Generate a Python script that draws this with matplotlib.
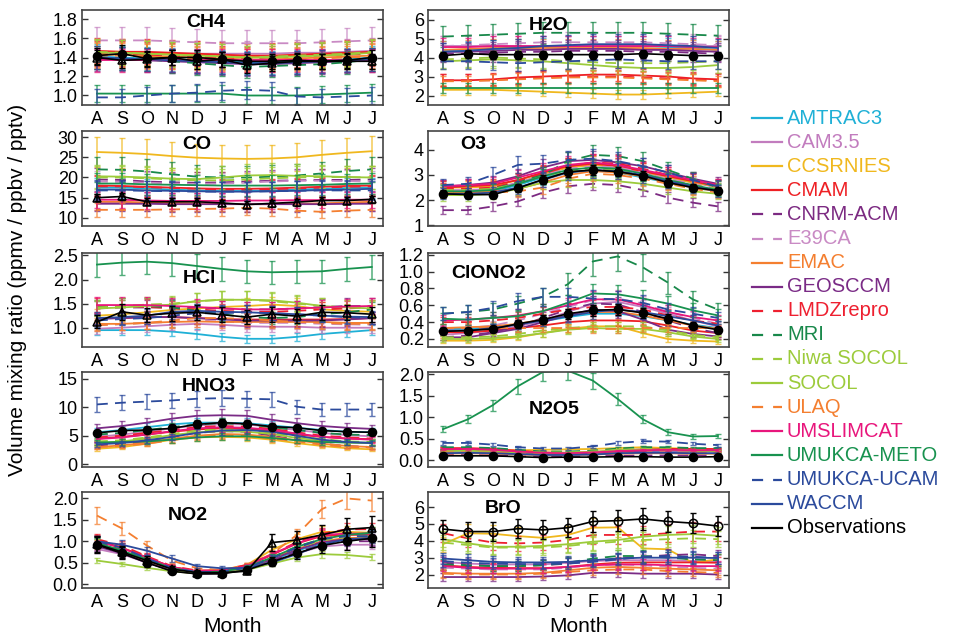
import matplotlib
matplotlib.use("Agg")
import matplotlib.pyplot as plt
from matplotlib.lines import Line2D
from matplotlib.ticker import FormatStrFormatter
import numpy as np

plt.rcParams['font.family'] = ['Liberation Sans', 'DejaVu Sans']

MONTHS = ['A', 'S', 'O', 'N', 'D', 'J', 'F', 'M', 'A', 'M', 'J', 'J']

MODELS = ['AMTRAC3', 'CAM3.5', 'CCSRNIES', 'CMAM', 'CNRM-ACM', 'E39CA', 'EMAC',
          'GEOSCCM', 'LMDZrepro', 'MRI', 'Niwa SOCOL', 'SOCOL', 'ULAQ',
          'UMSLIMCAT', 'UMUKCA-METO', 'UMUKCA-UCAM', 'WACCM']
COLORS = ['#1fb0d6', '#c27cbe', '#f0b81e', '#ee2024', '#7c2a82', '#c98ac4', '#f47f30',
          '#7a2b86', '#ee2030', '#18884a', '#9ccb3b', '#9ccb3b', '#f47f30',
          '#e8167c', '#18924f', '#2b4a9c', '#2b4a9c']
DASHED = [False, False, False, False, True, True, False, False, True, True, True,
          False, True, False, False, True, False]

CH4 = {
    'AMTRAC3': [1.41, 1.40, 1.39, 1.38, 1.37, 1.36, 1.35, 1.35, 1.36, 1.37, 1.38, 1.40],
    'CAM3.5': [1.45, 1.45, 1.45, 1.44, 1.44, 1.44, 1.44, 1.44, 1.45, 1.45, 1.46, 1.47],
    'CCSRNIES': [1.46, 1.46, 1.45, 1.44, 1.43, 1.42, 1.41, 1.41, 1.42, 1.43, 1.44, 1.45],
    'CMAM': [1.47, 1.46, 1.46, 1.45, 1.44, 1.43, 1.42, 1.42, 1.43, 1.44, 1.45, 1.46],
    'CNRM-ACM': [1.40, 1.39, 1.38, 1.37, 1.36, 1.35, 1.34, 1.34, 1.35, 1.36, 1.37, 1.38],
    'E39CA': [1.58, 1.58, 1.58, 1.57, 1.56, 1.55, 1.55, 1.55, 1.55, 1.56, 1.57, 1.58],
    'EMAC': [1.43, 1.43, 1.42, 1.41, 1.40, 1.39, 1.38, 1.38, 1.39, 1.40, 1.41, 1.42],
    'GEOSCCM': [1.38, 1.38, 1.37, 1.36, 1.35, 1.34, 1.33, 1.33, 1.34, 1.35, 1.36, 1.37],
    'LMDZrepro': [1.44, 1.44, 1.43, 1.42, 1.41, 1.40, 1.39, 1.40, 1.41, 1.42, 1.43, 1.44],
    'MRI': [1.40, 1.39, 1.38, 1.36, 1.34, 1.32, 1.30, 1.31, 1.32, 1.33, 1.35, 1.38],
    'Niwa SOCOL': [1.46, 1.45, 1.44, 1.43, 1.42, 1.41, 1.40, 1.41, 1.42, 1.43, 1.44, 1.46],
    'SOCOL': [1.45, 1.45, 1.44, 1.43, 1.42, 1.41, 1.40, 1.40, 1.41, 1.42, 1.43, 1.45],
    'ULAQ': [1.42, 1.42, 1.41, 1.40, 1.39, 1.38, 1.37, 1.37, 1.38, 1.39, 1.40, 1.41],
    'UMSLIMCAT': [1.37, 1.37, 1.37, 1.37, 1.37, 1.37, 1.37, 1.37, 1.37, 1.37, 1.37, 1.37],
    'UMUKCA-METO': [1.02, 1.02, 1.02, 1.02, 1.02, 1.02, 1.00, 1.00, 1.00, 1.01, 1.02, 1.03],
    'UMUKCA-UCAM': [0.98, 0.98, 1.00, 1.02, 1.03, 1.05, 1.06, 1.05, 0.99, 0.98, 0.99, 1.00],
    'WACCM': [1.40, 1.39, 1.38, 1.37, 1.36, 1.35, 1.34, 1.34, 1.35, 1.36, 1.37, 1.38],
}
CH4_OBS = [1.42, 1.44, 1.39, 1.40, 1.40, 1.38, 1.36, 1.36, 1.37, 1.36, 1.37, 1.40]
CH4_OBS2 = [1.40, 1.37, 1.38, 1.40, 1.36, 1.38, 1.32, 1.34, 1.36, 1.36, 1.36, 1.36]

H2O = {
    'AMTRAC3': [4.4, 4.4, 4.45, 4.5, 4.55, 4.6, 4.6, 4.6, 4.6, 4.55, 4.5, 4.4],
    'CAM3.5': [4.6, 4.6, 4.6, 4.6, 4.6, 4.6, 4.6, 4.6, 4.6, 4.6, 4.6, 4.6],
    'CCSRNIES': [2.3, 2.3, 2.3, 2.25, 2.2, 2.15, 2.1, 2.05, 2.05, 2.1, 2.15, 2.2],
    'CMAM': [2.8, 2.8, 2.85, 2.95, 3.0, 3.05, 3.1, 3.1, 3.05, 3.0, 2.9, 2.85],
    'CNRM-ACM': [4.2, 4.2, 4.25, 4.3, 4.3, 4.35, 4.35, 4.35, 4.3, 4.3, 4.25, 4.2],
    'E39CA': [4.6, 4.65, 4.7, 4.75, 4.8, 4.8, 4.8, 4.8, 4.8, 4.75, 4.7, 4.65],
    'EMAC': [4.4, 4.45, 4.5, 4.5, 4.5, 4.5, 4.5, 4.5, 4.5, 4.45, 4.45, 4.4],
    'GEOSCCM': [4.3, 4.3, 4.35, 4.4, 4.4, 4.45, 4.45, 4.45, 4.4, 4.4, 4.35, 4.3],
    'LMDZrepro': [2.8, 2.8, 2.8, 2.9, 2.95, 3.0, 3.0, 3.0, 2.95, 2.9, 2.85, 2.8],
    'MRI': [5.1, 5.15, 5.2, 5.25, 5.3, 5.3, 5.3, 5.3, 5.3, 5.25, 5.2, 5.15],
    'Niwa SOCOL': [3.9, 3.95, 4.0, 3.95, 3.9, 3.8, 3.75, 3.7, 3.7, 3.7, 3.75, 3.8],
    'SOCOL': [3.8, 3.85, 3.9, 3.85, 3.8, 3.7, 3.6, 3.5, 3.45, 3.45, 3.5, 3.6],
    'ULAQ': [2.75, 2.75, 2.8, 2.85, 2.9, 2.95, 2.95, 2.95, 2.9, 2.85, 2.8, 2.75],
    'UMSLIMCAT': [4.55, 4.55, 4.6, 4.6, 4.6, 4.6, 4.6, 4.6, 4.6, 4.6, 4.55, 4.55],
    'UMUKCA-METO': [2.4, 2.4, 2.4, 2.4, 2.4, 2.4, 2.4, 2.4, 2.4, 2.4, 2.4, 2.4],
    'UMUKCA-UCAM': [3.8, 3.8, 3.75, 3.7, 3.75, 3.8, 3.85, 3.9, 3.85, 3.8, 3.8, 3.8],
    'WACCM': [4.3, 4.35, 4.45, 4.5, 4.6, 4.65, 4.7, 4.7, 4.7, 4.65, 4.6, 4.5],
}
H2O_OBS = [4.1, 4.2, 4.15, 4.15, 4.15, 4.15, 4.15, 4.15, 4.2, 4.15, 4.1, 4.1]

CO = {
    'AMTRAC3': [17.5, 17.5, 17.3, 17.0, 16.8, 16.7, 16.7, 16.8, 17.0, 17.2, 17.4, 17.5],
    'CAM3.5': [13.8, 13.8, 13.7, 13.6, 13.5, 13.5, 13.5, 13.5, 13.5, 13.5, 13.6, 13.7],
    'CCSRNIES': [26.3, 26.1, 25.8, 25.3, 24.9, 24.7, 24.6, 24.7, 25.0, 25.6, 26.1, 26.5],
    'CMAM': [18.0, 17.9, 17.7, 17.5, 17.3, 17.2, 17.2, 17.3, 17.5, 17.7, 17.9, 18.0],
    'CNRM-ACM': [19.5, 19.4, 19.0, 18.8, 18.7, 18.8, 19.0, 19.2, 19.3, 19.4, 19.4, 19.5],
    'E39CA': [19.0, 18.9, 18.7, 18.5, 18.4, 18.5, 18.7, 19.0, 19.2, 19.2, 19.1, 19.0],
    'EMAC': [14.0, 14.0, 13.8, 13.7, 13.6, 13.5, 13.4, 13.4, 13.5, 13.6, 13.8, 14.0],
    'GEOSCCM': [13.5, 13.5, 13.5, 13.4, 13.4, 13.4, 13.4, 13.4, 13.4, 13.4, 13.5, 13.5],
    'LMDZrepro': [17.8, 17.8, 17.6, 17.4, 17.2, 17.0, 17.0, 17.1, 17.3, 17.5, 17.7, 17.8],
    'MRI': [22.0, 21.9, 21.5, 20.8, 20.2, 20.0, 20.0, 20.2, 20.5, 21.0, 21.6, 22.0],
    'Niwa SOCOL': [20.0, 20.0, 19.8, 19.5, 19.3, 19.3, 19.5, 19.8, 20.0, 20.1, 20.1, 20.0],
    'SOCOL': [20.3, 20.2, 20.0, 19.7, 19.6, 20.0, 20.5, 20.6, 20.4, 20.3, 20.1, 20.0],
    'ULAQ': [12.0, 12.0, 12.0, 12.1, 12.2, 12.3, 12.5, 12.3, 11.8, 11.5, 11.8, 12.0],
    'UMSLIMCAT': [14.5, 14.5, 14.3, 14.2, 14.2, 14.2, 14.3, 14.3, 14.4, 14.4, 14.5, 14.5],
    'UMUKCA-METO': [18.5, 18.5, 18.3, 18.2, 18.1, 18.0, 18.0, 18.0, 18.1, 18.2, 18.4, 18.5],
    'UMUKCA-UCAM': [16.8, 16.8, 16.7, 16.6, 16.5, 16.5, 16.5, 16.6, 16.7, 16.8, 16.8, 16.8],
    'WACCM': [17.0, 17.0, 16.8, 16.7, 16.6, 16.5, 16.5, 16.6, 16.7, 16.9, 17.0, 17.2],
}
CO_OBS2 = [15.0, 15.3, 14.0, 14.0, 14.0, 13.7, 13.3, 13.6, 13.9, 14.3, 14.3, 14.6]

O3 = {
    'AMTRAC3': [2.3, 2.3, 2.35, 2.6, 2.9, 3.1, 3.2, 3.1, 2.9, 2.7, 2.5, 2.35],
    'CAM3.5': [2.4, 2.4, 2.45, 2.7, 3.0, 3.3, 3.4, 3.3, 3.1, 2.9, 2.7, 2.5],
    'CCSRNIES': [2.5, 2.5, 2.55, 2.8, 3.05, 3.3, 3.4, 3.35, 3.15, 2.9, 2.7, 2.55],
    'CMAM': [2.5, 2.55, 2.6, 2.8, 3.1, 3.35, 3.45, 3.35, 3.15, 2.95, 2.75, 2.55],
    'CNRM-ACM': [1.6, 1.6, 1.75, 1.95, 2.3, 2.55, 2.65, 2.6, 2.4, 2.1, 1.9, 1.75],
    'E39CA': [2.4, 2.4, 2.45, 2.7, 3.0, 3.25, 3.35, 3.3, 3.1, 2.85, 2.65, 2.45],
    'EMAC': [2.3, 2.3, 2.35, 2.45, 2.7, 3.0, 3.15, 3.1, 2.95, 2.7, 2.5, 2.35],
    'GEOSCCM': [2.55, 2.6, 2.7, 2.95, 3.3, 3.55, 3.6, 3.5, 3.35, 3.1, 2.85, 2.65],
    'LMDZrepro': [2.45, 2.45, 2.5, 2.75, 3.05, 3.35, 3.5, 3.45, 3.25, 3.0, 2.8, 2.6],
    'MRI': [2.3, 2.35, 2.45, 2.7, 3.0, 3.55, 3.8, 3.75, 3.55, 3.2, 2.85, 2.5],
    'Niwa SOCOL': [2.4, 2.4, 2.45, 2.65, 2.95, 3.15, 3.25, 3.2, 3.05, 2.8, 2.6, 2.45],
    'SOCOL': [2.2, 2.2, 2.25, 2.45, 2.7, 2.8, 2.8, 2.75, 2.65, 2.5, 2.35, 2.25],
    'ULAQ': [2.3, 2.3, 2.3, 2.35, 2.5, 2.85, 3.05, 3.0, 2.85, 2.65, 2.45, 2.3],
    'UMSLIMCAT': [2.55, 2.6, 2.65, 2.9, 3.15, 3.4, 3.5, 3.4, 3.2, 3.0, 2.8, 2.6],
    'UMUKCA-METO': [2.35, 2.35, 2.4, 2.65, 2.95, 3.2, 3.3, 3.25, 3.05, 2.8, 2.6, 2.4],
    'UMUKCA-UCAM': [2.6, 2.65, 3.0, 3.4, 3.45, 3.6, 3.65, 3.55, 3.35, 3.1, 2.8, 2.55],
    'WACCM': [2.25, 2.25, 2.3, 2.5, 2.8, 3.1, 3.2, 3.15, 3.0, 2.75, 2.55, 2.35],
}
O3_OBS = [2.25, 2.22, 2.22, 2.48, 2.82, 3.12, 3.20, 3.13, 2.97, 2.70, 2.50, 2.38]

HCL = {
    'AMTRAC3': [0.95, 0.95, 0.95, 0.92, 0.87, 0.81, 0.77, 0.77, 0.81, 0.87, 0.91, 0.95],
    'CAM3.5': [0.98, 1.0, 1.03, 1.06, 1.08, 1.06, 1.03, 1.02, 1.02, 1.0, 1.0, 1.0],
    'CCSRNIES': [1.25, 1.28, 1.32, 1.37, 1.4, 1.43, 1.45, 1.48, 1.45, 1.38, 1.35, 1.33],
    'CMAM': [1.2, 1.2, 1.22, 1.22, 1.2, 1.18, 1.17, 1.17, 1.17, 1.17, 1.18, 1.2],
    'CNRM-ACM': [1.4, 1.42, 1.42, 1.43, 1.42, 1.4, 1.38, 1.38, 1.4, 1.43, 1.45, 1.45],
    'E39CA': [1.05, 1.07, 1.1, 1.12, 1.15, 1.13, 1.1, 1.1, 1.1, 1.08, 1.07, 1.06],
    'EMAC': [1.08, 1.08, 1.1, 1.12, 1.13, 1.12, 1.12, 1.12, 1.12, 1.12, 1.1, 1.1],
    'GEOSCCM': [1.18, 1.2, 1.22, 1.22, 1.2, 1.17, 1.15, 1.15, 1.15, 1.15, 1.17, 1.2],
    'LMDZrepro': [1.45, 1.45, 1.43, 1.4, 1.38, 1.35, 1.33, 1.33, 1.35, 1.38, 1.4, 1.42],
    'MRI': [1.42, 1.45, 1.45, 1.42, 1.35, 1.28, 1.22, 1.2, 1.22, 1.28, 1.32, 1.38],
    'Niwa SOCOL': [1.42, 1.45, 1.48, 1.5, 1.55, 1.58, 1.58, 1.55, 1.5, 1.45, 1.42, 1.42],
    'SOCOL': [1.4, 1.42, 1.45, 1.48, 1.55, 1.58, 1.58, 1.57, 1.52, 1.45, 1.42, 1.4],
    'ULAQ': [1.05, 1.08, 1.1, 1.15, 1.2, 1.2, 1.18, 1.15, 1.12, 1.1, 1.08, 1.08],
    'UMSLIMCAT': [1.47, 1.47, 1.47, 1.45, 1.43, 1.4, 1.38, 1.38, 1.4, 1.42, 1.44, 1.45],
    'UMUKCA-METO': [2.31, 2.35, 2.37, 2.34, 2.28, 2.22, 2.17, 2.15, 2.16, 2.17, 2.22, 2.26],
    'UMUKCA-UCAM': [1.15, 1.18, 1.2, 1.25, 1.3, 1.3, 1.32, 1.3, 1.28, 1.25, 1.22, 1.2],
    'WACCM': [1.2, 1.22, 1.25, 1.33, 1.35, 1.33, 1.32, 1.3, 1.28, 1.25, 1.23, 1.22],
}
HCL_OBS2 = [1.12, 1.33, 1.26, 1.30, 1.32, 1.27, 1.22, 1.28, 1.24, 1.32, 1.31, 1.28]

CLONO2 = {
    'AMTRAC3': [0.32, 0.32, 0.34, 0.37, 0.41, 0.46, 0.50, 0.50, 0.47, 0.42, 0.37, 0.33],
    'CAM3.5': [0.25, 0.27, 0.30, 0.35, 0.42, 0.52, 0.62, 0.64, 0.58, 0.50, 0.42, 0.35],
    'CCSRNIES': [0.18, 0.18, 0.19, 0.22, 0.27, 0.32, 0.35, 0.35, 0.27, 0.20, 0.18, 0.17],
    'CMAM': [0.28, 0.28, 0.30, 0.33, 0.36, 0.40, 0.42, 0.42, 0.41, 0.36, 0.30, 0.27],
    'CNRM-ACM': [0.22, 0.24, 0.28, 0.35, 0.45, 0.55, 0.62, 0.61, 0.52, 0.42, 0.33, 0.27],
    'E39CA': [0.32, 0.33, 0.36, 0.42, 0.50, 0.58, 0.66, 0.68, 0.62, 0.52, 0.45, 0.38],
    'EMAC': [0.33, 0.34, 0.35, 0.38, 0.43, 0.48, 0.52, 0.52, 0.48, 0.42, 0.36, 0.32],
    'GEOSCCM': [0.22, 0.22, 0.27, 0.32, 0.40, 0.48, 0.55, 0.53, 0.43, 0.31, 0.26, 0.23],
    'LMDZrepro': [0.40, 0.40, 0.42, 0.45, 0.50, 0.55, 0.58, 0.58, 0.55, 0.48, 0.42, 0.38],
    'MRI': [0.50, 0.52, 0.55, 0.62, 0.70, 0.85, 1.12, 1.18, 1.05, 0.87, 0.67, 0.55],
    'Niwa SOCOL': [0.22, 0.22, 0.23, 0.26, 0.30, 0.33, 0.35, 0.35, 0.35, 0.30, 0.25, 0.22],
    'SOCOL': [0.20, 0.20, 0.21, 0.23, 0.27, 0.31, 0.33, 0.32, 0.32, 0.28, 0.23, 0.20],
    'ULAQ': [0.33, 0.33, 0.33, 0.33, 0.33, 0.33, 0.32, 0.32, 0.33, 0.33, 0.33, 0.33],
    'UMSLIMCAT': [0.42, 0.43, 0.45, 0.48, 0.53, 0.60, 0.67, 0.67, 0.60, 0.52, 0.46, 0.42],
    'UMUKCA-METO': [0.44, 0.43, 0.45, 0.47, 0.53, 0.63, 0.74, 0.73, 0.68, 0.62, 0.54, 0.48],
    'UMUKCA-UCAM': [0.50, 0.52, 0.57, 0.65, 0.70, 0.70, 0.68, 0.67, 0.63, 0.55, 0.50, 0.45],
    'WACCM': [0.30, 0.30, 0.33, 0.37, 0.42, 0.47, 0.52, 0.55, 0.52, 0.47, 0.42, 0.36],
}
CLONO2_OBS = [0.29, 0.30, 0.32, 0.38, 0.43, 0.50, 0.54, 0.55, 0.51, 0.44, 0.36, 0.31]

HNO3 = {
    'AMTRAC3': [5.6, 6.0, 6.5, 7.0, 7.3, 7.3, 7.2, 6.8, 6.4, 6.0, 5.7, 5.6],
    'CAM3.5': [4.8, 5.2, 5.7, 6.3, 6.8, 7.0, 7.0, 6.5, 6.0, 5.5, 5.1, 4.9],
    'CCSRNIES': [2.7, 3.0, 3.6, 4.3, 4.7, 4.8, 4.7, 4.3, 3.7, 3.2, 2.8, 2.6],
    'CMAM': [4.5, 4.8, 5.2, 5.7, 6.1, 6.3, 6.2, 5.8, 5.2, 4.8, 4.5, 4.4],
    'CNRM-ACM': [3.3, 3.5, 4.0, 4.8, 5.5, 5.8, 5.7, 5.0, 4.3, 3.6, 3.2, 3.0],
    'E39CA': [5.0, 5.3, 5.8, 6.4, 7.0, 7.2, 7.1, 6.6, 6.0, 5.4, 5.1, 5.0],
    'EMAC': [3.0, 3.3, 3.8, 4.5, 5.0, 5.3, 5.2, 4.8, 4.2, 3.6, 3.2, 3.0],
    'GEOSCCM': [6.3, 6.7, 7.3, 8.0, 8.5, 8.6, 8.5, 7.8, 7.2, 6.7, 6.4, 6.2],
    'LMDZrepro': [4.7, 5.0, 5.5, 6.0, 6.5, 6.7, 6.6, 6.2, 5.6, 5.0, 4.7, 4.5],
    'MRI': [5.2, 5.5, 6.0, 6.5, 7.0, 7.2, 7.0, 6.5, 6.0, 5.5, 5.2, 5.1],
    'Niwa SOCOL': [4.0, 4.2, 4.7, 5.3, 5.9, 6.1, 6.0, 5.5, 4.9, 4.4, 4.0, 3.9],
    'SOCOL': [3.7, 4.0, 4.5, 5.1, 5.6, 5.8, 5.7, 5.3, 4.6, 4.1, 3.8, 3.7],
    'ULAQ': [3.0, 3.2, 3.6, 4.2, 4.8, 5.1, 5.0, 4.5, 4.0, 3.4, 3.0, 2.9],
    'UMSLIMCAT': [4.4, 4.7, 5.2, 5.8, 6.3, 6.5, 6.4, 6.0, 5.4, 4.8, 4.5, 4.3],
    'UMUKCA-METO': [3.8, 3.9, 4.0, 4.3, 4.7, 4.9, 4.9, 4.6, 4.2, 3.9, 3.8, 3.8],
    'UMUKCA-UCAM': [10.5, 10.8, 11.0, 11.2, 11.5, 11.6, 11.5, 11.4, 10.1, 9.6, 9.6, 9.6],
    'WACCM': [3.5, 3.7, 4.2, 4.8, 5.5, 5.9, 6.0, 5.7, 5.0, 4.3, 3.9, 3.7],
}
HNO3_OBS = [5.5, 5.9, 6.0, 6.3, 7.0, 7.3, 7.1, 6.6, 6.4, 5.9, 5.7, 5.6]

N2O5 = {
    'AMTRAC3': [0.2, 0.2, 0.18, 0.15, 0.13, 0.13, 0.15, 0.18, 0.2, 0.2, 0.2, 0.2],
    'CAM3.5': [0.22, 0.22, 0.2, 0.17, 0.15, 0.15, 0.17, 0.2, 0.22, 0.22, 0.21, 0.21],
    'CCSRNIES': [0.25, 0.25, 0.24, 0.23, 0.24, 0.25, 0.26, 0.28, 0.3, 0.28, 0.26, 0.25],
    'CMAM': [0.28, 0.28, 0.26, 0.22, 0.18, 0.17, 0.19, 0.22, 0.25, 0.26, 0.26, 0.26],
    'CNRM-ACM': [0.12, 0.12, 0.11, 0.09, 0.08, 0.08, 0.09, 0.1, 0.11, 0.11, 0.11, 0.11],
    'E39CA': [0.2, 0.2, 0.19, 0.16, 0.14, 0.14, 0.16, 0.19, 0.2, 0.2, 0.19, 0.19],
    'EMAC': [0.15, 0.16, 0.15, 0.13, 0.12, 0.12, 0.13, 0.15, 0.16, 0.16, 0.15, 0.15],
    'GEOSCCM': [0.23, 0.24, 0.22, 0.18, 0.15, 0.15, 0.17, 0.2, 0.22, 0.23, 0.22, 0.22],
    'LMDZrepro': [0.27, 0.27, 0.25, 0.2, 0.17, 0.16, 0.18, 0.21, 0.24, 0.25, 0.25, 0.25],
    'MRI': [0.3, 0.3, 0.28, 0.24, 0.2, 0.2, 0.22, 0.27, 0.3, 0.3, 0.28, 0.28],
    'Niwa SOCOL': [0.22, 0.23, 0.21, 0.19, 0.18, 0.18, 0.2, 0.24, 0.26, 0.25, 0.23, 0.22],
    'SOCOL': [0.21, 0.22, 0.2, 0.18, 0.17, 0.17, 0.19, 0.23, 0.25, 0.24, 0.22, 0.21],
    'ULAQ': [0.18, 0.18, 0.17, 0.15, 0.13, 0.13, 0.14, 0.16, 0.18, 0.18, 0.17, 0.17],
    'UMSLIMCAT': [0.25, 0.26, 0.24, 0.2, 0.17, 0.16, 0.18, 0.21, 0.23, 0.24, 0.23, 0.23],
    'UMUKCA-METO': [0.72, 0.95, 1.28, 1.72, 2.05, 2.08, 1.85, 1.42, 0.95, 0.65, 0.55, 0.56],
    'UMUKCA-UCAM': [0.40, 0.40, 0.36, 0.30, 0.27, 0.27, 0.32, 0.40, 0.44, 0.43, 0.38, 0.35],
    'WACCM': [0.16, 0.17, 0.16, 0.14, 0.12, 0.12, 0.13, 0.16, 0.17, 0.17, 0.16, 0.16],
}
N2O5_OBS = [0.10, 0.10, 0.10, 0.08, 0.06, 0.07, 0.07, 0.08, 0.08, 0.07, 0.07, 0.08]

NO2 = {
    'AMTRAC3': [0.95, 0.78, 0.55, 0.33, 0.25, 0.26, 0.35, 0.55, 0.78, 0.95, 1.05, 1.08],
    'CAM3.5': [0.82, 0.70, 0.50, 0.32, 0.24, 0.25, 0.35, 0.52, 0.72, 0.88, 0.92, 0.92],
    'CCSRNIES': [1.0, 0.85, 0.62, 0.40, 0.30, 0.32, 0.45, 0.80, 1.05, 1.22, 1.22, 1.2],
    'CMAM': [1.02, 0.85, 0.62, 0.40, 0.30, 0.32, 0.42, 0.68, 0.95, 1.12, 1.15, 1.15],
    'CNRM-ACM': [0.9, 0.75, 0.52, 0.32, 0.25, 0.26, 0.35, 0.55, 0.75, 0.92, 1.0, 1.0],
    'E39CA': [0.95, 0.8, 0.58, 0.37, 0.28, 0.3, 0.4, 0.62, 0.85, 1.02, 1.1, 1.1],
    'EMAC': [0.92, 0.75, 0.52, 0.33, 0.26, 0.28, 0.38, 0.6, 0.82, 1.0, 1.08, 1.08],
    'GEOSCCM': [0.88, 0.72, 0.5, 0.32, 0.25, 0.26, 0.36, 0.58, 0.8, 0.98, 1.05, 1.05],
    'LMDZrepro': [1.05, 0.9, 0.65, 0.42, 0.32, 0.33, 0.45, 0.7, 0.98, 1.18, 1.28, 1.28],
    'MRI': [0.98, 0.8, 0.58, 0.37, 0.27, 0.28, 0.38, 0.62, 0.88, 1.05, 1.15, 1.18],
    'Niwa SOCOL': [0.95, 0.78, 0.56, 0.35, 0.27, 0.28, 0.38, 0.6, 0.85, 1.02, 1.1, 1.12],
    'SOCOL': [0.55, 0.47, 0.38, 0.30, 0.25, 0.27, 0.33, 0.48, 0.62, 0.70, 0.68, 0.63],
    'ULAQ': [1.6, 1.3, 0.9, 0.55, 0.37, 0.33, 0.45, 0.70, 1.15, 1.75, 2.0, 1.95],
    'UMSLIMCAT': [1.0, 0.84, 0.62, 0.4, 0.3, 0.32, 0.42, 0.7, 0.95, 1.15, 1.18, 1.18],
    'UMUKCA-METO': [0.96, 0.78, 0.58, 0.37, 0.28, 0.29, 0.4, 0.62, 0.87, 1.05, 1.15, 1.2],
    'UMUKCA-UCAM': [1.0, 0.85, 0.6, 0.38, 0.28, 0.29, 0.38, 0.6, 0.85, 1.05, 1.12, 1.12],
    'WACCM': [1.0, 0.92, 0.78, 0.6, 0.42, 0.37, 0.38, 0.5, 0.7, 0.92, 1.05, 1.08],
}
NO2_OBS = [0.92, 0.72, 0.50, 0.30, 0.24, 0.24, 0.33, 0.52, 0.72, 0.90, 1.00, 1.07]
NO2_OBS2 = [0.93, 0.75, 0.55, 0.35, 0.27, 0.27, 0.30, 0.97, 1.03, 1.15, 1.28, 1.32]

BRO = {
    'AMTRAC3': None,
    'CAM3.5': [2.75, 2.65, 2.6, 2.6, 2.6, 2.7, 2.8, 2.85, 2.85, 2.85, 2.8, 2.8],
    'CCSRNIES': [3.8, 4.45, 4.42, 4.28, 4.18, 4.35, 4.78, 4.8, 3.55, 3.5, 2.7, 2.9],
    'CMAM': [2.55, 2.45, 2.4, 2.38, 2.38, 2.45, 2.6, 2.7, 2.72, 2.72, 2.72, 2.7],
    'CNRM-ACM': [2.7, 2.6, 2.5, 2.5, 2.55, 2.65, 2.8, 2.95, 3.05, 3.15, 3.2, 3.1],
    'E39CA': [2.4, 2.35, 2.3, 2.3, 2.3, 2.4, 2.55, 2.6, 2.55, 2.45, 2.4, 2.35],
    'EMAC': [2.1, 2.05, 2.05, 2.05, 2.1, 2.25, 2.4, 2.45, 2.4, 2.35, 2.3, 2.25],
    'GEOSCCM': [1.85, 1.85, 1.85, 1.85, 1.88, 1.95, 2.1, 2.1, 2.05, 2.05, 2.05, 2.0],
    'LMDZrepro': [4.45, 4.15, 3.9, 3.85, 3.9, 4.05, 4.35, 4.35, 4.35, 4.45, 4.55, 4.55],
    'MRI': [2.6, 2.55, 2.5, 2.5, 2.55, 2.7, 2.95, 3.1, 3.1, 3.0, 2.9, 2.85],
    'Niwa SOCOL': [3.9, 3.75, 3.6, 3.6, 3.6, 3.7, 3.85, 3.95, 4.05, 4.1, 4.15, 4.1],
    'SOCOL': [4.1, 3.85, 3.65, 3.65, 3.7, 3.8, 3.95, 4.05, 4.25, 4.35, 4.4, 4.3],
    'ULAQ': [2.05, 2.0, 2.0, 2.0, 2.05, 2.15, 2.25, 2.3, 2.3, 2.2, 2.15, 2.1],
    'UMSLIMCAT': [2.5, 2.4, 2.35, 2.35, 2.35, 2.45, 2.55, 2.6, 2.6, 2.55, 2.5, 2.5],
    'UMUKCA-METO': None,
    'UMUKCA-UCAM': [2.8, 2.7, 2.65, 2.62, 2.62, 2.65, 2.75, 2.9, 3.05, 3.1, 3.05, 3.0],
    'WACCM': [2.95, 2.85, 2.75, 2.72, 2.72, 2.75, 2.85, 2.95, 3.0, 3.0, 3.0, 2.98],
}
BRO_OBS = [4.7, 4.55, 4.55, 4.72, 4.65, 4.78, 5.15, 5.2, 5.3, 5.15, 5.05, 4.88]

# relative spread used for error bars (models, observations)
MODEL_ERR = {'CH4': 0.09, 'H2O': 0.11, 'CO': 0.14, 'O3': 0.10, 'HCl': 0.11,
             'ClONO2': 0.15, 'HNO3': 0.12, 'N2O5': 0.10, 'NO2': 0.12, 'BrO': 0.12}
OBS_ERR = {'CH4': 0.06, 'H2O': 0.05, 'CO': 0.06, 'O3': 0.06, 'HCl': 0.12,
           'ClONO2': 0.12, 'HNO3': 0.08, 'N2O5': 0.15, 'NO2': 0.2, 'BrO': 0.12}

PANELS = [
    ('CH4', CH4, CH4_OBS, CH4_OBS2, None, (0.9, 1.9), [1.0, 1.2, 1.4, 1.6, 1.8], '%.1f', (0.41, 0.87)),
    ('H2O', H2O, H2O_OBS, None, None, (1.5, 6.5), [2, 3, 4, 5, 6], '%d', (0.40, 0.84)),
    ('CO', CO, None, CO_OBS2, None, (8, 31.5), [10, 15, 20, 25, 30], '%d', (0.38, 0.86)),
    ('O3', O3, O3_OBS, None, None, (0.97, 4.75), [1, 2, 3, 4], '%d', (0.15, 0.86)),
    ('HCl', HCL, None, HCL_OBS2, None, (0.6, 2.55), [1.0, 1.5, 2.0, 2.5], '%.1f', (0.39, 0.73)),
    ('ClONO2', CLONO2, CLONO2_OBS, None, None, (0.105, 1.22), [0.2, 0.4, 0.6, 0.8, 1.0, 1.2], '%.1f', (0.20, 0.78)),
    ('HNO3', HNO3, HNO3_OBS, None, None, (-0.5, 16.2), [0, 5, 10, 15], '%d', (0.42, 0.85)),
    ('N2O5', N2O5, N2O5_OBS, None, None, (-0.16, 2.05), [0.0, 0.5, 1.0, 1.5, 2.0], '%.1f', (0.42, 0.61)),
    ('NO2', NO2, NO2_OBS, NO2_OBS2, None, (-0.09, 2.15), [0.0, 0.5, 1.0, 1.5, 2.0], '%.1f', (0.35, 0.76)),
    ('BrO', BRO, None, None, BRO_OBS, (1.2, 6.9), [2, 3, 4, 5, 6], '%d', (0.25, 0.83)),
]

W, H = 960, 638
fig = plt.figure(figsize=(W / 100, H / 100), dpi=100)

col_x = [82, 428]
ax_w = 301
rows = [(10, 105), (131, 226), (253, 347), (372, 467), (492, 588)]

x = np.arange(len(MONTHS))

for i, (name, data, obs, obs2, obs3, ylim, yticks, fmt, tpos) in enumerate(PANELS):
    r, c = divmod(i, 2)
    top, bot = rows[r]
    ax = fig.add_axes([col_x[c] / W, 1 - bot / H, ax_w / W, (bot - top) / H])
    me = MODEL_ERR[name]
    for m, col, dsh in zip(MODELS, COLORS, DASHED):
        vals = data.get(m)
        if vals is None:
            continue
        v = np.array(vals)
        ax.errorbar(x, v, yerr=me * v, fmt='none', ecolor=col, alpha=0.75,
                    elinewidth=1.1, capsize=2.0, capthick=1.0)
        ax.plot(x, v, color=col, lw=1.3, ls=(0, (6, 4)) if dsh else '-')
    oe = OBS_ERR[name]
    for vals, mk, filled in ((obs, 'o', True), (obs2, '^', False), (obs3, 'o', False)):
        if vals is None:
            continue
        v = np.array(vals)
        ax.errorbar(x, v, yerr=oe * v, fmt='none', ecolor='black', elinewidth=1.1,
                    capsize=2.0, zorder=4)
        ax.plot(x, v, color='black', lw=1.2, marker=mk, ms=5.8 if filled else 6,
                mfc='black' if filled else 'none', mew=1.1, zorder=5)

    ax.set_xlim(-0.6, 11.45)
    ax.set_ylim(*ylim)
    ax.set_yticks(yticks)
    ax.yaxis.set_major_formatter(FormatStrFormatter(fmt))
    ax.set_xticks(x)
    ax.set_xticklabels(MONTHS)
    ax.tick_params(axis='both', labelsize=13, direction='in', length=4, width=1,
                   colors='#333333', labelcolor='black', pad=3)
    ax.tick_params(axis='y', right=True)
    ax.tick_params(axis='x', length=0, pad=4)
    for s in ax.spines.values():
        s.set_color('#444444')
        s.set_linewidth(1.2)
    ax.text(tpos[0], tpos[1], name, transform=ax.transAxes, fontsize=14,
            fontweight='bold', ha='center', va='center', zorder=10)
    if r == 4:
        ax.set_xlabel('Month', fontsize=15, labelpad=5)

fig.text(18 / W, 1 - 290 / H, 'Volume mixing ratio (ppmv / ppbv / pptv)', rotation=90,
         fontsize=15, ha='center', va='center')

# legend
leg_names = MODELS + ['Observations']
leg_colors = COLORS + ['black']
leg_dash = DASHED + [False]
y0, dy = 118, 24.1
for k, (n, col, dsh) in enumerate(zip(leg_names, leg_colors, leg_dash)):
    yy = 1 - (y0 + k * dy) / H
    fig.add_artist(Line2D([752 / W, 782 / W], [yy, yy], color=col, lw=1.6,
                          ls=(0, (5, 4.5)) if dsh else '-'))
    fig.text(787 / W, yy, n, color=col, fontsize=14.5, va='center', ha='left')

fig.savefig('out.png', dpi=100)
